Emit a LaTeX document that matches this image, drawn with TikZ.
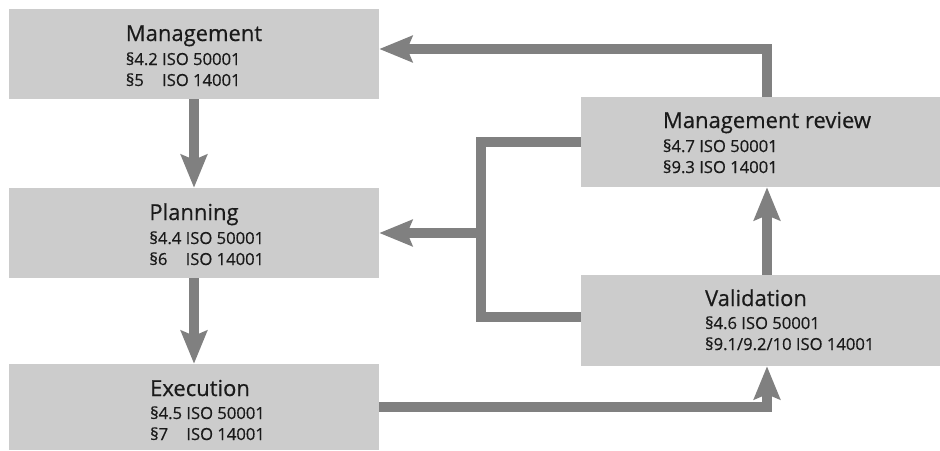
\documentclass[tikz,border=0pt]{standalone}
\usepackage{fontspec}
\setmainfont{Open Sans}
\newfontfamily\semifont{Open Sans}[FakeBold=0.5]
\usetikzlibrary{arrows.meta}
\definecolor{boxgray}{HTML}{CCCCCC}
\definecolor{linegray}{HTML}{808080}
\definecolor{txt}{HTML}{1A1A1A}
\tikzset{
  box/.style={fill=boxgray, draw=none, inner sep=0pt},
  ttl/.style={anchor=base, inner sep=0pt, text=txt, font=\semifont\fontsize{22}{24}\selectfont},
  sub/.style={anchor=base west, inner sep=0pt, text=txt, font=\semifont\fontsize{16.6}{18}\selectfont},
  conn/.style={draw=linegray, line width=10pt, line join=miter},
  arr/.style={conn, -{Stealth[length=33pt, width=26pt, inset=5pt]}}
}
\begin{document}
\begin{tikzpicture}[x=1pt,y=-1pt]
\useasboundingbox (0,0) rectangle (940,450);
% boxes
\node[box, minimum width=370pt, minimum height=90pt] (mgmt) at (194,54) {};
\node[box, minimum width=370pt, minimum height=90pt] (plan) at (194,233) {};
\node[box, minimum width=370pt, minimum height=86pt] (exec) at (194,407) {};
\node[box, minimum width=359pt, minimum height=90pt] (review) at (760.5,142) {};
\node[box, minimum width=359pt, minimum height=91pt] (valid) at (760.5,320.5) {};
% texts
\node[ttl] (mgmtT) at (194,41) {Management};
\node[sub] (mgmtA) at ([yshift=-24pt]mgmtT.base west) {§4.2 ISO 50001};
\node[sub] (mgmtB) at ([yshift=-45pt]mgmtT.base west) {§5\phantom{.2} ISO 14001};
\node[ttl] (planT) at (194,220) {Planning};
\node[sub] (planA) at ([yshift=-24pt]planT.base west) {§4.4 ISO 50001};
\node[sub] (planB) at ([yshift=-45pt]planT.base west) {§6\phantom{.4} ISO 14001};
\node[ttl] (execT) at (200,396) {Execution};
\node[sub] (execA) at ([yshift=-23pt]execT.base west) {§4.5 ISO 50001};
\node[sub] (execB) at ([yshift=-44pt]execT.base west) {§7\phantom{.5} ISO 14001};
\node[ttl] (reviewT) at (767,128) {Management review};
\node[sub] (reviewA) at ([yshift=-24pt]reviewT.base west) {§4.7 ISO 50001};
\node[sub] (reviewB) at ([yshift=-45pt]reviewT.base west) {§9.3 ISO 14001};
\node[ttl] (validT) at (756,306) {Validation};
\node[sub] (validA) at ([yshift=-23pt]validT.base west) {§4.6 ISO 50001};
\node[sub] (validB) at ([yshift=-44pt]validT.base west) {§9.1/9.2/10 ISO 14001};
% helper coordinates
\coordinate (rx) at (767,0);
\coordinate (ty) at (0,49);
\coordinate (jn) at (481,233);
\coordinate (ly) at (0,317);
% connectors
\draw[arr] (mgmt.south) -- (plan.north);
\draw[arr] (plan.south) -- (exec.north);
\draw[arr] (exec.east) -| (valid.south -| rx);
\draw[arr] (valid.north -| rx) -- (review.south -| rx);
\draw[arr] (review.north -| rx) |- (mgmt.east |- ty);
\draw[conn] (review.west) -| (jn) |- (valid.west |- ly);
\draw[arr] (jn) -- (plan.east);
\end{tikzpicture}
\end{document}
